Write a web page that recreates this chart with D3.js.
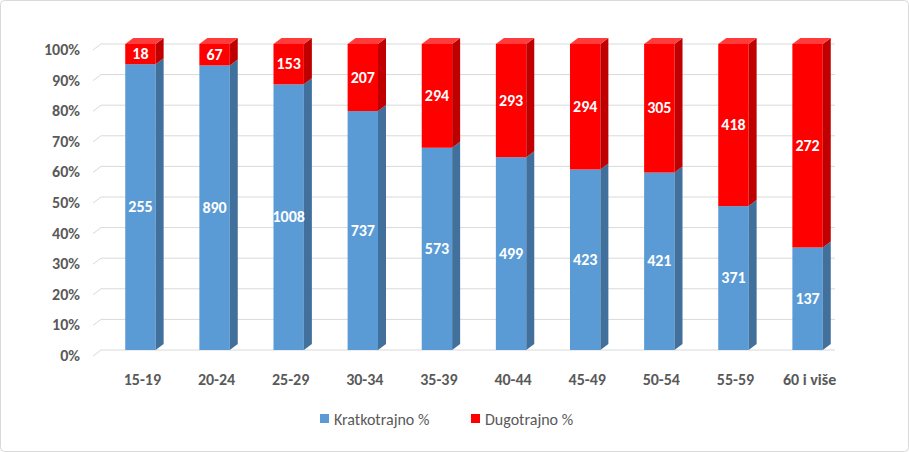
<!DOCTYPE html>
<html><head><meta charset="utf-8">
<script src="https://cdn.jsdelivr.net/npm/d3@7"></script>
<style>body{margin:0;background:#fff}svg{font-family:Calibri,"Liberation Sans",Arial,sans-serif}</style>
</head><body><div id="chart"></div>
<script>
var categories = ["15-19","20-24","25-29","30-34","35-39","40-44","45-49","50-54","55-59","60 i više"];
var kratkotrajno = [255,890,1008,737,573,499,423,421,371,137];
var dugotrajno = [18,67,153,207,294,293,294,305,418,272];
var yTicks = [0,0.1,0.2,0.3,0.4,0.5,0.6,0.7,0.8,0.9,1];

var W = 909, H = 452, dx = 8, dy = 6;
var svg = d3.select("#chart").append("svg").attr("width", W).attr("height", H);
svg.append("rect").attr("x",0.5).attr("y",0.5).attr("width",W-1).attr("height",H-1)
  .attr("rx",4).attr("fill","#fff").attr("stroke","#d9d9d9");

var x = d3.scaleBand().domain(categories).range([103, 845]).paddingInner(0.59).paddingOuter(0.3);
var y = d3.scaleLinear().domain([0,1]).range([350, 44]);

// gridlines (3D)
var g = svg.append("g");
yTicks.forEach(function(t){
  var yy = y(t);
  g.append("path").attr("d","M"+93+","+(yy+dy)+"L"+(93+dx)+","+yy+"H835")
    .attr("fill","none").attr("stroke","#d9d9d9");
  g.append("text").attr("x",80).attr("y",yy+dy+5).attr("text-anchor","end")
    .attr("font-size",16).attr("font-weight","bold").attr("fill","#595959").text(d3.format(".0%")(t));
});

function box(x0, w, y0, y1, front, side, top){
  var b = svg.append("g");
  b.append("rect").attr("x",x0).attr("y",y1).attr("width",w).attr("height",y0-y1).attr("fill",front);
  b.append("path").attr("d","M"+(x0+w)+","+y1+"l"+dx+","+(-dy)+"V"+(y0-dy)+"l"+(-dx)+","+dy+"Z").attr("fill",side);
  if (top) b.append("path").attr("d","M"+x0+","+y1+"l"+dx+","+(-dy)+"h"+w+"l"+(-dx)+","+dy+"Z").attr("fill",top);
}

categories.forEach(function(c,i){
  var tot = kratkotrajno[i] + dugotrajno[i];
  var p = kratkotrajno[i] / tot;
  var x0 = x(c), w = x.bandwidth();
  box(x0, w, y(0), y(p), "#5b9bd5", "#41709c", null);
  box(x0, w, y(p), y(1), "#ff0000", "#c00000", "#ff3b3b");
  svg.append("text").attr("x",x0+w/2).attr("y",(y(0)+y(p))/2+5).attr("text-anchor","middle")
    .attr("font-size",16).attr("font-weight","bold").attr("fill","#fff").text(kratkotrajno[i]);
  svg.append("text").attr("x",x0+w/2).attr("y",(y(p)+y(1))/2+5).attr("text-anchor","middle")
    .attr("font-size",16).attr("font-weight","bold").attr("fill","#fff").text(dugotrajno[i]);
  svg.append("text").attr("x",x0+w/2+2).attr("y",385).attr("text-anchor","middle")
    .attr("font-size",16).attr("font-weight","bold").attr("fill","#595959").text(c);
});

var legend = [["Kratkotrajno %","#5b9bd5",320],["Dugotrajno %","#ff0000",471]];
legend.forEach(function(l){
  svg.append("rect").attr("x",l[2]).attr("y",414).attr("width",9).attr("height",9).attr("fill",l[1]);
  svg.append("text").attr("x",l[2]+14).attr("y",425).attr("font-size",16).attr("fill","#595959").text(l[0]);
});
</script></body></html>
